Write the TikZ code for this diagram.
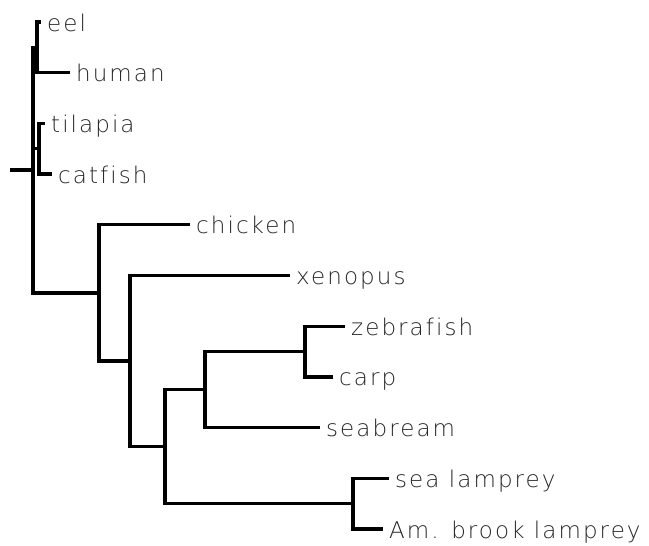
\documentclass[tikz,border=0pt]{standalone}
\usepackage{fontspec}
\newfontfamily\tipfont{DejaVu Sans ExtraLight}[LetterSpace=9.0,Ligatures=CommonOff]
\begin{document}
\begin{tikzpicture}[x=1pt,y=-1pt,
  branch/.style={line width=3.3pt, line cap=rect, line join=miter},
  taxon/.style={anchor=base west, inner sep=0pt,
    font=\tipfont\fontsize{23}{25}\selectfont, text=black!85}]
\useasboundingbox (0,0) rectangle (649,546);

% branch tips
\coordinate (t-eel)     at (39,22);
\coordinate (t-human)   at (68,72.7);
\coordinate (t-tilapia) at (43,123.4);
\coordinate (t-catfish) at (50,174.1);
\coordinate (t-chicken) at (188,224.8);
\coordinate (t-xenopus) at (288,275.5);
\coordinate (t-zebra)   at (343,326.2);
\coordinate (t-carp)    at (331,376.9);
\coordinate (t-bream)   at (318,427.6);
\coordinate (t-sealamp) at (387,478.3);
\coordinate (t-brook)   at (381,529);

% internal nodes
\coordinate (stub) at (12,170.1);
\coordinate (r)    at (33,170.1);
\coordinate (eh)   at (37,47.35);
\coordinate (tc)   at (39,148.75);
\coordinate (nA)   at (99,292.9);
\coordinate (nB)   at (130,361);
\coordinate (nC)   at (165,446.6);
\coordinate (nD)   at (205,389.6);
\coordinate (nE)   at (305,351.55);
\coordinate (nF)   at (353,503.65);

% taxon labels
\node[taxon] (eel)     at ([shift={(8,9)}]t-eel)     {eel};
\node[taxon] (human)   at ([shift={(8,9)}]t-human)   {human};
\node[taxon] (tilapia) at ([shift={(8,9)}]t-tilapia) {tilapia};
\node[taxon] (catfish) at ([shift={(8,9)}]t-catfish) {catfish};
\node[taxon] (chicken) at ([shift={(8,9)}]t-chicken) {chicken};
\node[taxon] (xenopus) at ([shift={(8,9)}]t-xenopus) {xenopus};
\node[taxon] (zebra)   at ([shift={(8,9)}]t-zebra)   {zebrafish};
\node[taxon] (carp)    at ([shift={(8,9)}]t-carp)    {carp};
\node[taxon] (bream)   at ([shift={(8,9)}]t-bream)   {seabream};
\node[taxon] (sealamp) at ([shift={(8,9)}]t-sealamp) {sea lamprey};
\node[taxon] (brook)   at ([shift={(8,9)}]t-brook)   {Am. brook lamprey};

% branches
\draw[branch] (stub) -- (r);
\draw[branch] (r) |- (eh);
\draw[branch] (r) |- (tc);
\draw[branch] (r) |- (nA);
\draw[branch] (eh) |- (t-eel);
\draw[branch] (eh) |- (t-human);
\draw[branch] (tc) |- (t-tilapia);
\draw[branch] (tc) |- (t-catfish);
\draw[branch] (nA) |- (t-chicken);
\draw[branch] (nA) |- (nB);
\draw[branch] (nB) |- (t-xenopus);
\draw[branch] (nB) |- (nC);
\draw[branch] (nC) |- (nD);
\draw[branch] (nC) |- (nF);
\draw[branch] (nD) |- (nE);
\draw[branch] (nD) |- (t-bream);
\draw[branch] (nE) |- (t-zebra);
\draw[branch] (nE) |- (t-carp);
\draw[branch] (nF) |- (t-sealamp);
\draw[branch] (nF) |- (t-brook);
\end{tikzpicture}
\end{document}
